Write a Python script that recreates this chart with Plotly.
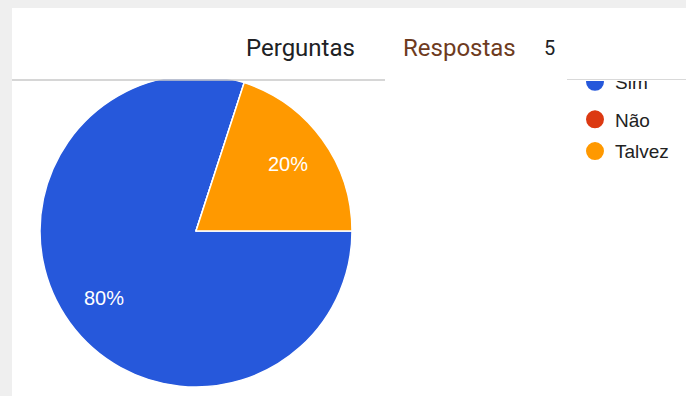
import math
import plotly.graph_objects as go

# Responses to a single-choice question (5 answers in total)
categories = ["Sim", "Não", "Talvez"]
counts = [4, 0, 1]
slice_colors = ["#2658db", "#dc3912", "#ff9900"]

# Header tabs
tab_labels = ["Perguntas", "Respostas", "5"]

W, H = 686, 396

# pie geometry (pixels)
PIE_CX, PIE_CY, PIE_R = 196, 231, 156
START_ANGLE = 90          # first slice starts at 3 o'clock, going clockwise
LABEL_RADIUS = 0.73       # label distance from centre, as a fraction of the radius


def fx(px):
    return px / W


def fy(px):
    return 1 - px / H


fig = go.Figure()

fig.add_trace(go.Pie(
    labels=categories,
    values=counts,
    sort=False,
    direction="clockwise",
    rotation=START_ANGLE,
    marker=dict(colors=slice_colors, line=dict(color="white", width=1.5)),
    textinfo="none",
    showlegend=False,
    hoverinfo="skip",
    domain=dict(x=[fx(PIE_CX - PIE_R), fx(PIE_CX + PIE_R)],
                y=[fy(PIE_CY + PIE_R), fy(PIE_CY - PIE_R)]),
))

# Legend entries drawn as round markers; "Sim" sits in its own legend box
for i, (name, color) in enumerate(zip(categories, slice_colors)):
    fig.add_trace(go.Scatter(
        x=[None], y=[None], mode="markers", name=name, legendgroup=name,
        legend="legend2" if i == 0 else "legend",
        marker=dict(size=16, color=color, symbol="circle", line=dict(color=color, width=2)),
        hoverinfo="skip",
    ))

# Percent labels placed at the middle angle of each slice
total = sum(counts)
label_annotations = []
cum = 0
for v in counts:
    if v > 0:
        mid = math.radians(START_ANGLE + 360 * (cum + v / 2) / total)
        px = PIE_CX + LABEL_RADIUS * PIE_R * math.sin(mid)
        py = PIE_CY - LABEL_RADIUS * PIE_R * math.cos(mid)
        label_annotations.append(dict(
            xref="paper", yref="paper", x=fx(px), y=fy(py),
            xanchor="center", yanchor="middle", showarrow=False,
            text=f"{round(100 * v / total)}%",
            font=dict(family="Liberation Sans, Arial", size=20, color="white"),
        ))
    cum += v

shapes = [
    # white card on the grey page
    dict(type="rect", xref="paper", yref="paper", x0=fx(12), x1=1, y0=0, y1=fy(8),
         fillcolor="white", line=dict(width=0), layer="below"),
    # header area sits above the chart
    dict(type="rect", xref="paper", yref="paper", x0=fx(12), x1=1, y0=fy(79.5), y1=fy(8),
         fillcolor="white", line=dict(width=0), layer="above"),
    dict(type="line", xref="paper", yref="paper", x0=fx(12), x1=fx(385), y0=fy(80), y1=fy(80),
         line=dict(color="#c9c9c9", width=1.5), layer="above"),
]

annotations = [
    # mask over the top of the "Sim" legend row, under the header rule
    dict(xref="paper", yref="paper", x=fx(568), y=fy(56), xanchor="left", yanchor="top",
         text="", showarrow=False, width=W - 568, height=25, bgcolor="white",
         borderpad=0, borderwidth=0),
    dict(xref="paper", yref="paper", x=fx(567), y=fy(79.5), xanchor="left", yanchor="top",
         text="", showarrow=False, width=W - 567, height=1, bgcolor="#d9d9d9",
         borderpad=0, borderwidth=0),
    dict(xref="paper", yref="paper", x=fx(244), y=fy(48), xanchor="left", yanchor="middle",
         text=tab_labels[0], showarrow=False,
         font=dict(family="Roboto", size=24, color="#202124")),
    dict(xref="paper", yref="paper", x=fx(401), y=fy(48), xanchor="left", yanchor="middle",
         text=tab_labels[1], showarrow=False,
         font=dict(family="Roboto", size=24, color="#6e3b1e")),
    dict(xref="paper", yref="paper", x=fx(542), y=fy(48), xanchor="left", yanchor="middle",
         text=tab_labels[2], showarrow=False,
         font=dict(family="Roboto", size=20, color="#202124")),
] + label_annotations

legend_style = dict(
    xanchor="left", yanchor="top",
    font=dict(family="Liberation Sans, Arial", size=19, color="#222222"),
    bgcolor="rgba(0,0,0,0)",
    traceorder="grouped", tracegroupgap=4, itemsizing="trace",
)

fig.update_layout(
    width=W, height=H,
    margin=dict(l=0, r=0, t=0, b=0),
    paper_bgcolor="#efefef",
    plot_bgcolor="rgba(0,0,0,0)",
    xaxis=dict(visible=False),
    yaxis=dict(visible=False),
    shapes=shapes,
    annotations=annotations,
    legend=dict(x=fx(575), y=fy(100.5), **legend_style),
    legend2=dict(x=fx(575), y=fy(63), **legend_style),
)

fig.write_html("out.html")
